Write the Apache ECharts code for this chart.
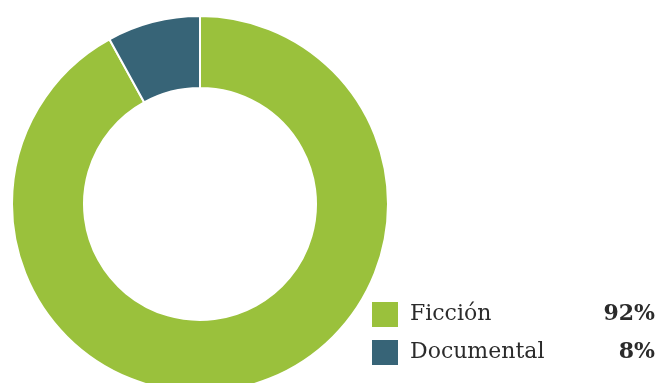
<!DOCTYPE html>
<html>
<head>
<meta charset="utf-8">
<script src="https://cdn.jsdelivr.net/npm/echarts@6/dist/echarts.min.js"></script>
<style>
  html, body { margin: 0; padding: 0; background: #ffffff; }
  #chart { width: 657px; height: 383px; }
</style>
</head>
<body>
<div id="chart"></div>
<script>
// Share of titles by genre
const categories = ['Ficción', 'Documental'];
const values = [92, 8];
const colors = ['#9ac13c', '#376477'];

const total = values.reduce((a, b) => a + b, 0);
const pct = {};
categories.forEach((c, i) => { pct[c] = Math.round(values[i] / total * 100); });

const chart = echarts.init(document.getElementById('chart'), null, { renderer: 'canvas' });
chart.setOption({
  animation: false,
  color: colors,
  legend: {
    orient: 'vertical',
    left: 365,
    top: 295,
    itemWidth: 28,
    itemHeight: 27,
    itemGap: 9,
    icon: 'rect',
    selectedMode: false,
    data: categories,
    formatter: name => `{n|${name}}{v|${pct[name]}%}`,
    textStyle: {
      padding: [0, 0, 0, 6],
      rich: {
        n: { fontFamily: 'DejaVu Serif', fontSize: 22, color: '#2b2b2b', width: 175 },
        v: { fontFamily: 'DejaVu Serif', fontSize: 22, fontWeight: 'bold', color: '#2b2b2b', width: 70, align: 'right' }
      }
    }
  },
  series: [{
    type: 'pie',
    center: [200, 204],
    radius: [116, 188],
    startAngle: 90,
    clockwise: true,
    label: { show: false },
    labelLine: { show: false },
    emphasis: { disabled: true },
    itemStyle: { borderColor: '#ffffff', borderWidth: 2 },
    data: categories.map((c, i) => ({ name: c, value: values[i] }))
  }]
});
</script>
</body>
</html>
